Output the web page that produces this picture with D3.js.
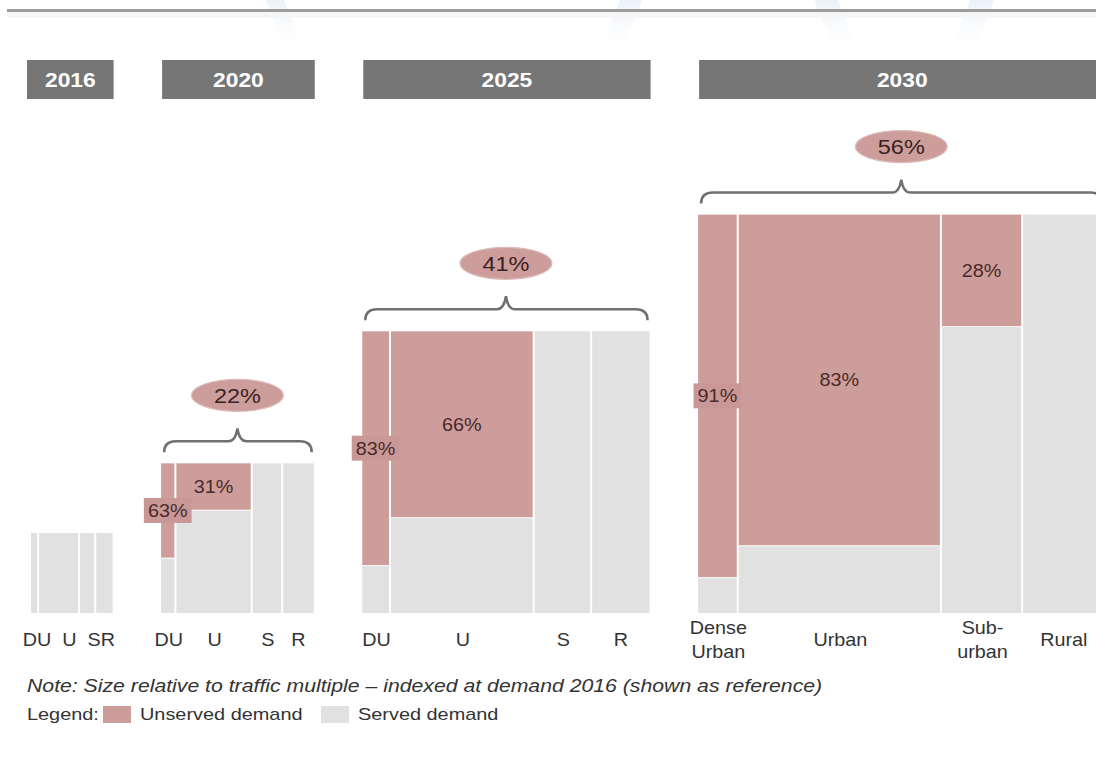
<!DOCTYPE html>
<html>
<head>
<meta charset="utf-8">
<script src="https://cdn.jsdelivr.net/npm/d3@7"></script>
<style>
  html, body { margin: 0; padding: 0; background: #fff; }
  svg { display: block; font-family: "Liberation Sans", Arial, sans-serif; }
</style>
</head>
<body>
<svg id="chart" width="1096" height="758"></svg>
<script>
// Years shown, traffic multiple relative to 2016 demand (area of each block)
const years = ["2016", "2020", "2025", "2030"];
const trafficMultiple = [1, 3.5, 12.4, 24.8];

// Share of demand per area type (column widths inside each block)
const areaTypes = ["Dense Urban", "Urban", "Sub-urban", "Rural"];
const demandShare = [0.1, 0.5, 0.2, 0.2];

// Unserved demand (%) per area type, one row per year
const unservedPct = [
  [0, 0, 0, 0],
  [63, 31, 0, 0],
  [83, 66, 0, 0],
  [91, 83, 28, 0]
];

// Overall unserved demand (%) per year
const totalUnserved = [null, 22, 41, 56];

// Column labels under each block
const tickLabels = [
  ["DU", "U", "SR"],
  ["DU", "U", "S", "R"],
  ["DU", "U", "S", "R"],
  ["Dense\nUrban", "Urban", "Sub-\nurban", "Rural"]
];

const noteText = "Note: Size relative to traffic multiple \u2013 indexed at demand 2016 (shown as reference)";
const legendItems = ["Unserved demand", "Served demand"];

const COL_UNSERVED = "#cd9d9b";
const COL_SERVED = "#e1e1e1";
const COL_HEADER = "#767676";
const COL_TEXT = "#333333";
const COL_PCT = "#4a2a2a";
const SX = 1.1; // horizontal stretch of the lettering

const svg = d3.select("#chart");
const W = 1096;

// draws a horizontally stretched text at (x, y)
function stext(parent, x, y, str, size, opts = {}) {
  const t = parent.append("text")
    .attr("transform", `translate(${x},${y}) scale(${opts.sx || SX},1)`)
    .attr("text-anchor", opts.anchor || "start")
    .attr("fill", opts.fill || COL_TEXT)
    .attr("font-size", size)
    .text(str);
  if (opts.weight) t.attr("font-weight", opts.weight);
  if (opts.italic) t.attr("font-style", "italic");
  return t;
}

// faint background watermark strokes near the top
const defs = svg.append("defs");
const grad = defs.append("linearGradient").attr("id", "wm").attr("x1", 0).attr("y1", 0).attr("x2", 0).attr("y2", 1);
grad.append("stop").attr("offset", "0%").attr("stop-color", "#dde8f5").attr("stop-opacity", 0.55);
grad.append("stop").attr("offset", "100%").attr("stop-color", "#eef4fb").attr("stop-opacity", 0);
const wm = svg.append("g");
[[266, 284], [620, 642], [814, 838], [970, 994]].forEach(([a, b], i) => {
  const dir = i % 2 === 0 ? 1 : -1;
  wm.append("path")
    .attr("d", `M${a},0 L${b},0 L${b + dir * 18},45 L${a + dir * 18},45 Z`)
    .attr("fill", "url(#wm)");
});

// top rule
svg.append("rect").attr("x", 7).attr("y", 12).attr("width", W).attr("height", 6).attr("fill", "#f6f6f6");
svg.append("line").attr("x1", 7).attr("x2", W).attr("y1", 10.5).attr("y2", 10.5)
  .attr("stroke", "#9c9c9c").attr("stroke-width", 3);

// layout scales
const baseline = 613;
const sideScale = d3.scaleSqrt().domain([0, 1]).range([0, 80]);
const widthRatio = 1.02;
const groupGap = 48.5;
const startX = 31;

const groups = [];
let cursor = startX;
years.forEach((yr, i) => {
  const h = sideScale(trafficMultiple[i]);
  const w = h * widthRatio;
  groups.push({ year: yr, i, left: cursor, width: w, height: h, top: baseline - h });
  cursor += w + groupGap;
});

const colGap = 2;

groups.forEach(g => {
  const xs = d3.scaleLinear().domain([0, 1]).range([g.left, g.left + g.width]);
  const ys = d3.scaleLinear().domain([0, 100]).range([g.top, baseline]);
  const cum = d3.cumsum(demandShare);
  const cols = demandShare.map((s, k) => ({
    k,
    x0: xs(k === 0 ? 0 : cum[k - 1]),
    x1: xs(cum[k]),
    u: unservedPct[g.i][k]
  }));

  const gg = svg.append("g");

  // header bar with year
  const hx0 = g.i === 0 ? g.left - 4 : g.left + 1;
  const hx1 = g.left + g.width + 1;
  gg.append("rect")
    .attr("x", hx0).attr("y", 60).attr("width", hx1 - hx0).attr("height", 39)
    .attr("fill", COL_HEADER);
  stext(gg, (hx0 + hx1) / 2, 86.5, g.year, 20, { anchor: "middle", fill: "#fff", weight: "bold", sx: 1.14 });

  // served / unserved blocks
  cols.forEach(c => {
    const right = c.k === cols.length - 1 ? c.x1 : c.x1 - colGap;
    const wdt = right - c.x0;
    const uy = ys(c.u);
    if (c.u > 0) {
      gg.append("rect").attr("x", c.x0).attr("y", g.top).attr("width", wdt).attr("height", uy - g.top)
        .attr("fill", COL_UNSERVED);
    }
    gg.append("rect").attr("x", c.x0).attr("y", c.u > 0 ? uy + 1 : g.top).attr("width", wdt)
      .attr("height", baseline - (c.u > 0 ? uy + 1 : g.top))
      .attr("fill", COL_SERVED);
  });

  // value labels inside unserved blocks
  cols.filter(c => c.u > 0).forEach(c => {
    const cx = (c.x0 + c.x1 - colGap) / 2;
    const cy = (g.top + ys(c.u)) / 2;
    const t = stext(gg, cx, cy + 6.5, c.u + "%", 18, { anchor: "middle", fill: COL_PCT });
    const tw = t.node().getBBox().width * SX;
    if (tw > c.x1 - c.x0 - colGap) {
      gg.insert("rect", () => t.node())
        .attr("x", cx - tw / 2 - 4).attr("y", cy - 12.5).attr("width", tw + 8).attr("height", 25)
        .attr("fill", "#c99896");
    }
  });

  // column labels (a narrow block gets them on one shared line)
  const labels = tickLabels[g.i];
  if (g.width < 100) {
    stext(gg, g.left + g.width / 2 - 3, 646, labels.join("\u00a0\u00a0"), 18, { anchor: "middle" });
  } else {
    labels.forEach((lab, k) => {
      const span = (k === labels.length - 1) ? cols.slice(k) : [cols[k]];
      const cx = (span[0].x0 + span[span.length - 1].x1) / 2;
      const lines = lab.split("\n");
      lines.forEach((ln, j) => {
        stext(gg, cx, lines.length === 1 ? 646 : 634 + j * 24, ln, 18, { anchor: "middle" });
      });
    });
  }

  // brace and overall unserved bubble
  if (totalUnserved[g.i] != null) {
    const x0 = g.left + 3, x1 = g.left + g.width - 2;
    const xc = g.left + g.width / 2;
    const yb = g.top - 22;
    const path = `M${x0},${yb + 11} Q${x0},${yb} ${x0 + 12},${yb} L${xc - 9},${yb}` +
      ` Q${xc - 2},${yb} ${xc},${yb - 13} Q${xc + 2},${yb} ${xc + 9},${yb}` +
      ` L${x1 - 12},${yb} Q${x1},${yb} ${x1},${yb + 11}`;
    gg.append("path").attr("d", path).attr("fill", "none")
      .attr("stroke", "#707070").attr("stroke-width", 2.5);
    const ey = g.top - 68;
    gg.append("ellipse").attr("cx", xc).attr("cy", ey).attr("rx", 46).attr("ry", 16)
      .attr("fill", COL_UNSERVED).attr("stroke", "#dcbcbb").attr("stroke-width", 1.2);
    stext(gg, xc, ey + 7.5, totalUnserved[g.i] + "%", 21, { anchor: "middle", fill: "#3a2222", sx: 1.12 });
  }
});

// note
stext(svg, 27, 692, noteText, 18, { italic: true, sx: 1.18 });

// legend
const lg = svg.append("g");
stext(lg, 27, 720, "Legend:", 17, { sx: 1.17 });
const legendX = [103, 321];
const legendCol = [COL_UNSERVED, COL_SERVED];
legendItems.forEach((item, k) => {
  lg.append("rect").attr("x", legendX[k]).attr("y", 706).attr("width", 28).attr("height", 17).attr("fill", legendCol[k]);
  stext(lg, legendX[k] + 37, 720, item, 17, { sx: 1.17 });
});
</script>
</body>
</html>
